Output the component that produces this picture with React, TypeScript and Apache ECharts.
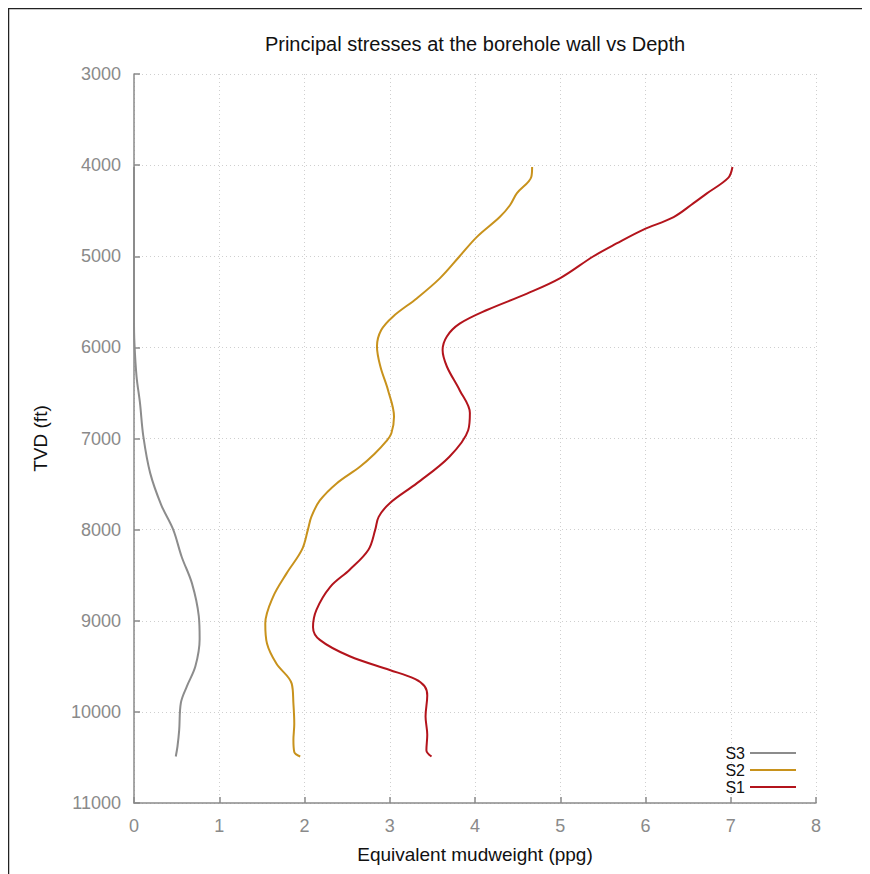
import React, { useEffect, useRef } from "react";
import * as echarts from "echarts";

const titleText = "Principal stresses at the borehole wall vs Depth";
const xAxisName = "Equivalent mudweight (ppg)";
const yAxisName = "TVD (ft)";
const seriesNames = ["S3", "S2", "S1"];

// [mudweight (ppg), depth (ft)]
const s3Values: number[][] = [
  [0, 4020], [0, 4600], [0, 5200], [0, 5700], [0.005, 5950], [0.03, 6320], [0.07, 6610],
  [0.11, 6980], [0.19, 7380], [0.32, 7730], [0.46, 8000], [0.56, 8300], [0.68, 8590],
  [0.76, 8950], [0.77, 9200], [0.72, 9500], [0.62, 9720], [0.55, 9900], [0.53, 10200],
  [0.51, 10380], [0.49, 10490],
];
const s2Values: number[][] = [
  [4.67, 4020], [4.66, 4130], [4.49, 4310], [4.41, 4440], [4.29, 4570], [4.02, 4790],
  [3.82, 5000], [3.59, 5240], [3.32, 5460], [3.04, 5660], [2.9, 5810], [2.85, 5990],
  [2.89, 6210], [2.98, 6470], [3.05, 6760], [3.02, 6940], [2.96, 7030], [2.82, 7170],
  [2.65, 7310], [2.38, 7490], [2.18, 7680], [2.08, 7860], [2.04, 8000], [1.97, 8220],
  [1.79, 8480], [1.63, 8740], [1.54, 9030], [1.56, 9250], [1.67, 9470], [1.85, 9690],
  [1.87, 9910], [1.88, 10130], [1.87, 10310], [1.88, 10440], [1.95, 10490],
];
const s1Values: number[][] = [
  [7.02, 4020], [6.97, 4140], [6.72, 4310], [6.56, 4420], [6.33, 4570], [5.97, 4710],
  [5.66, 4860], [5.39, 5000], [5.0, 5240], [4.61, 5410], [4.14, 5590], [3.82, 5740],
  [3.67, 5880], [3.62, 6030], [3.67, 6210], [3.82, 6470], [3.94, 6720], [3.92, 6910],
  [3.7, 7200], [3.32, 7490], [3.0, 7710], [2.87, 7860], [2.83, 8000], [2.75, 8220],
  [2.53, 8440], [2.3, 8630], [2.14, 8880], [2.1, 9070], [2.18, 9210], [2.53, 9390],
  [3.0, 9540], [3.3, 9640], [3.41, 9720], [3.44, 9820], [3.42, 10050], [3.44, 10250],
  [3.43, 10420], [3.49, 10490],
];

const FONT = "'Liberation Sans', Arial, Helvetica, sans-serif";
const AXIS_GREY = "#8a8a8a";
const COLORS = { S3: "#8c8c8c", S2: "#c8921c", S1: "#b3141c" };

export default function App() {
  const ref = useRef<HTMLDivElement>(null);
  useEffect(() => {
    if (!ref.current) return;
    const chart = echarts.init(ref.current, undefined, { renderer: "svg" });
    const mk = (name: string, data: number[][], color: string) => ({
      name,
      type: "line",
      data,
      smooth: 0.35,
      symbol: "none",
      clip: false,
      lineStyle: { color, width: 2 },
      itemStyle: { color },
    });
    chart.setOption({
      animation: false,
      textStyle: { fontFamily: FONT },
      title: {
        text: titleText,
        left: 467,
        top: 26,
        textAlign: "center",
        padding: 0,
        textStyle: { fontSize: 20, fontWeight: "normal", color: "#111", fontFamily: FONT },
      },
      graphic: [
        {
          type: "rect",
          shape: { x: 0.5, y: 0.5, width: 858, height: 900 },
          style: { fill: "none", stroke: "#222", lineWidth: 1.5 },
          silent: true,
        },
      ],
      legend: {
        data: seriesNames,
        orient: "vertical",
        right: 72,
        top: 737,
        align: "right",
        padding: 0,
        itemGap: 1,
        itemWidth: 46,
        itemHeight: 2,
        icon: "rect",
        textStyle: { fontSize: 16, lineHeight: 16, color: "#111", fontFamily: FONT },
      },
      grid: { left: 126, right: 52, top: 66, bottom: 71, containLabel: false },
      xAxis: {
        type: "value",
        min: 0,
        max: 8,
        interval: 1,
        name: xAxisName,
        nameLocation: "middle",
        nameGap: 42,
        nameTextStyle: { fontSize: 19, color: "#111", fontFamily: FONT },
        axisLine: { show: true, lineStyle: { color: AXIS_GREY, width: 1.5 } },
        axisTick: { show: true, inside: true, length: 6, lineStyle: { color: AXIS_GREY, width: 1.5 } },
        axisLabel: { fontSize: 18, color: AXIS_GREY, margin: 14, fontFamily: FONT },
        splitLine: { show: true, lineStyle: { color: "#cfcfcf", type: [1, 3], width: 1 } },
      },
      yAxis: {
        type: "value",
        inverse: true,
        min: 3000,
        max: 11000,
        interval: 1000,
        name: yAxisName,
        nameLocation: "middle",
        nameGap: 84,
        nameTextStyle: { fontSize: 19, color: "#111", fontFamily: FONT },
        axisLine: { show: true, lineStyle: { color: AXIS_GREY, width: 1.5 } },
        axisTick: { show: true, inside: true, length: 6, lineStyle: { color: AXIS_GREY, width: 1.5 } },
        axisLabel: {
          fontSize: 18,
          color: AXIS_GREY,
          margin: 13,
          fontFamily: FONT,
          formatter: (v: number) => String(v),
        },
        splitLine: { show: true, lineStyle: { color: "#cfcfcf", type: [1, 3], width: 1 } },
      },
      series: [
        mk("S3", s3Values, COLORS.S3),
        mk("S2", s2Values, COLORS.S2),
        mk("S1", s1Values, COLORS.S1),
      ],
    });
    return () => chart.dispose();
  }, []);
  return <div ref={ref} style={{ width: 860, height: 866 }} />;
}
